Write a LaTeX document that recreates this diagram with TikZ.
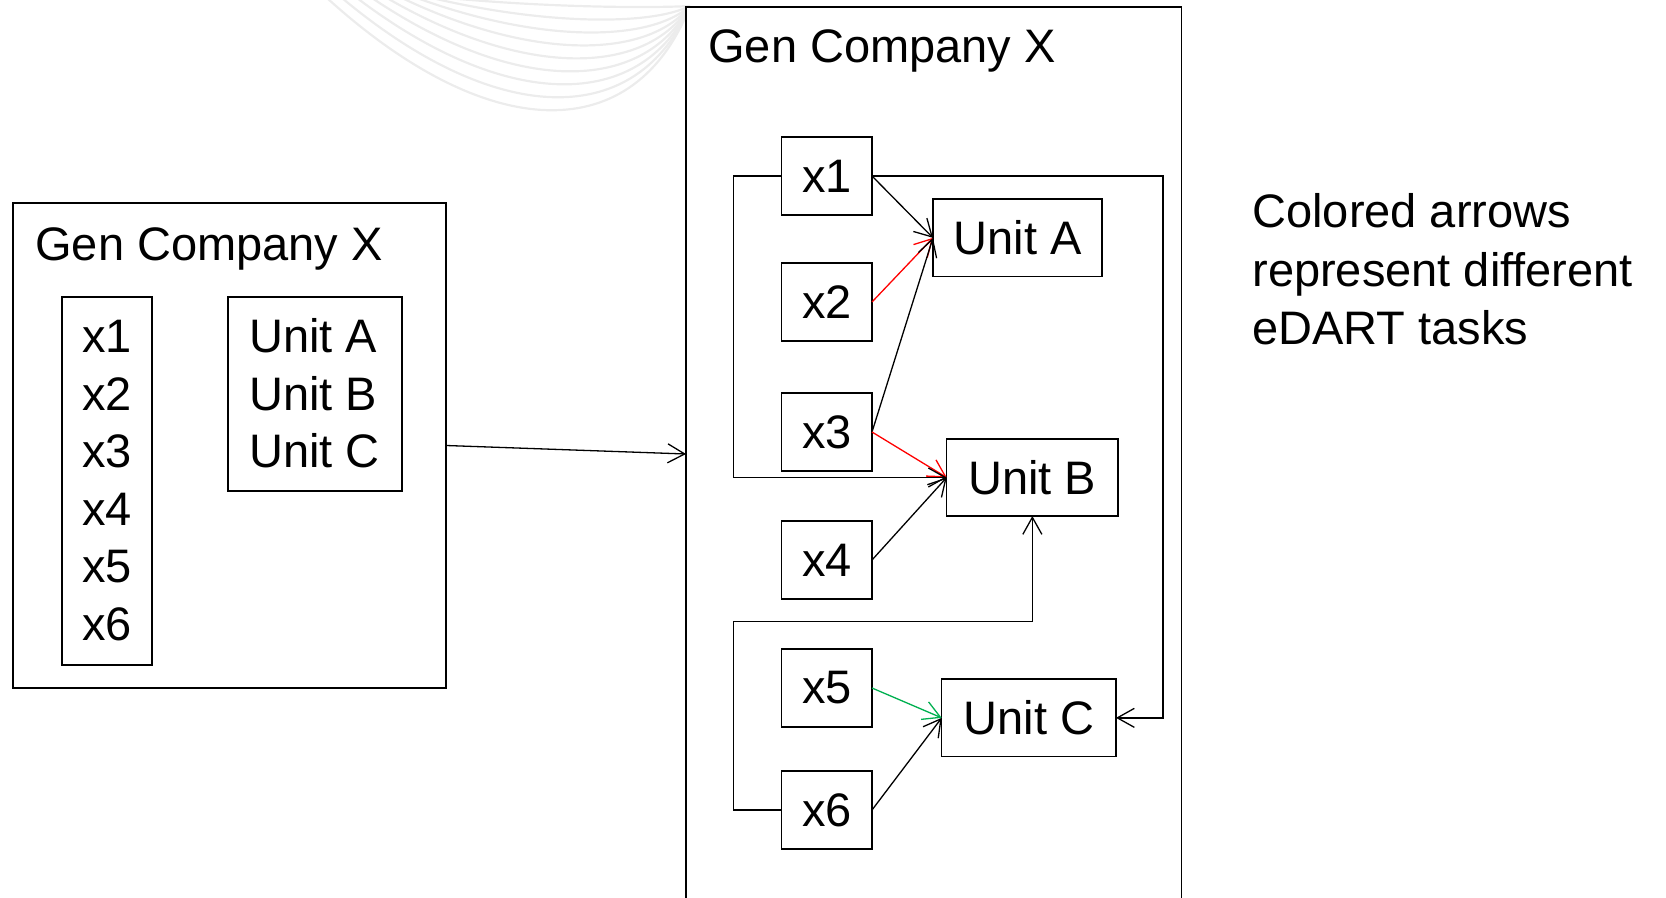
\documentclass[tikz,border=0pt]{standalone}
\usepackage{fontspec}
\setmainfont{Liberation Sans}
\usetikzlibrary{arrows.meta,calc}
\definecolor{taskred}{RGB}{255,0,0}
\definecolor{taskgreen}{RGB}{0,176,80}
\definecolor{swirl}{RGB}{236,236,236}

\begin{document}
\begin{tikzpicture}[x=0.5pt,y=-0.5pt,
  every node/.style={font=\fontsize{23.5pt}{28.7pt}\selectfont},
  boxframe/.style={draw, line width=0.7pt, inner sep=0pt, outer sep=0pt},
  varbox/.style={boxframe, minimum width=45.15pt, minimum height=39pt},
  txt/.style={inner sep=0pt, anchor=base west},
  link/.style={line width=0.65pt, -{Straight Barb[length=8.5pt,width=9.5pt]}},
]
\useasboundingbox (0,0) rectangle (1666,898);
\clip (0,0) rectangle (1666,898);

% faint swirl in the background
\foreach \i in {0,...,8} {
  \pgfmathsetmacro{\xl}{327+15*\i}
  \pgfmathsetmacro{\yb}{110-13*\i}
  \pgfmathsetmacro{\span}{690-\xl}
  \draw[swirl, line width=1.1pt] (\xl,-2) .. controls ({\xl+0.45*\span},{1.33*\yb}) and ({690-0.15*\span},{1.33*\yb}) .. (690,6);
}

% company overview
\node[boxframe, minimum width=216.5pt, minimum height=242.5pt] (leftco) at (229.5,445.5) {};
\node[txt] (lefttitle) at (35,261) {Gen Company X};
\node[boxframe, minimum width=45pt, minimum height=184pt] (xlist) at (107,481) {};
\foreach \k in {1,...,6}
  \node[txt] (lx\k) at (82,{353+57.4*(\k-1)}) {x\k};
\node[boxframe, minimum width=87pt, minimum height=97pt] (ulist) at (315,394) {};
\node[txt] (luA) at (249,353) {Unit A};
\node[txt] (luB) at (249,410.4) {Unit B};
\node[txt] (luC) at (249,467.8) {Unit C};

% detailed company view
\node[boxframe, fill=white, anchor=north west, minimum width=247.75pt, minimum height=461.5pt] (rightco) at (686,7) {};
\node[txt] (righttitle) at (708,63) {Gen Company X};

\node[varbox] (x1) at (826.85,176) {x1};
\node[varbox] (x2) at (826.85,302) {x2};
\node[varbox] (x3) at (826.85,432) {x3};
\node[varbox] (x4) at (826.85,560) {x4};
\node[varbox] (x5) at (826.85,688) {x5};
\node[varbox] (x6) at (826.85,810) {x6};

\node[boxframe, minimum width=84.5pt, minimum height=38.85pt] (ua) at (1017.5,237.85) {Unit A};
\node[boxframe, minimum width=85.65pt, minimum height=38.5pt] (ub) at (1032.35,477.5) {Unit B};
\node[boxframe, minimum width=87.15pt, minimum height=38.85pt] (uc) at (1028.85,717.85) {Unit C};

% note
\node[txt] (note1) at (1252,228) {Colored arrows};
\node[txt] (note2) at (1252,286.5) {represent different};
\node[txt] (note3) at (1252,345) {eDART tasks};

% connectors
\coordinate (entry) at (686,454);
\coordinate (lrail) at (733.7,0);
\coordinate (rrail) at (1163,0);
\coordinate (midrow) at (0,621.7);

\draw[link] (leftco.east) -- (entry);

\draw[link] (x1.east) -- (ua.west);
\draw[link, taskred] (x2.east) -- (ua.west);
\draw[link] (x3.east) -- (ua.west);
\draw[link, taskred] (x3.east) -- (ub.west);
\draw[link] (x4.east) -- (ub.west);
\draw[link, taskgreen] (x5.east) -- (uc.west);
\draw[link] (x6.east) -- (uc.west);

\draw[link] (x1.west) -- (x1.west -| lrail) |- (ub.west);
\draw[link] (x6.west) -- (x6.west -| lrail) -- (lrail |- midrow) -| (ub.south);
\draw[link] (x1.east) -- (x1.east -| rrail) |- (uc.east);
\end{tikzpicture}
\end{document}
